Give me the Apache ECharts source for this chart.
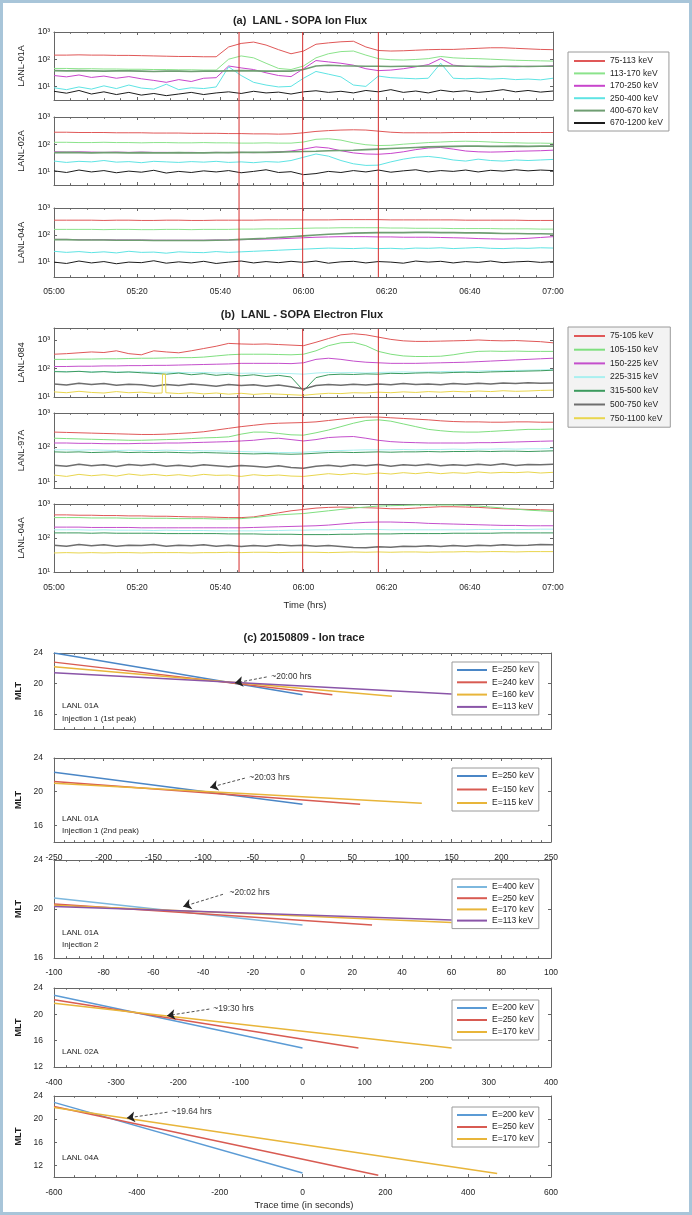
<!DOCTYPE html>
<html><head><meta charset="utf-8">
<script src="https://cdn.jsdelivr.net/npm/echarts@6/dist/echarts.min.js"></script>
<style>html,body{margin:0;padding:0;background:#fff}#c{width:692px;height:1215px}</style>
</head><body><div id="c"></div>
<script>
// ---------------- DATA ----------------
// time axis: minutes after 05:00 UT
const minutes = [0,3,6,9,12,15,18,21,24,27,30,33,36,39,42,45,48,51,54,57,60,63,66,69,72,75,78,81,84,87,90,93,96,99,102,105,108,111,114,117,120];
const eventMinutes = [44.5, 59.8, 78];

// (a) ion channels, values are log10(flux)
const ionChannels = ['75-113 keV','113-170 keV','170-250 keV','250-400 keV','400-670 keV','670-1200 keV'];
const ion01A_75_113 = [2.15,2.15,2.16,2.15,2.15,2.14,2.14,2.13,2.12,2.11, 2.10,2.10,2.09,2.09,2.45,2.58,2.63,2.52,2.35,2.20, 2.30,2.55,2.60,2.64,2.66,2.45,2.32,2.30,2.31,2.33, 2.35,2.36,2.36,2.38,2.40,2.42,2.42,2.40,2.38,2.36, 2.35];
const ion01A_113_170 = [1.66,1.66,1.65,1.65,1.64,1.64,1.63,1.63,1.62,1.62, 1.61,1.61,1.60,1.60,2.00,2.12,2.05,1.85,1.66,1.62, 1.75,2.05,2.20,2.28,2.30,2.15,2.02,1.98,1.97,1.99, 2.02,2.10,2.05,2.03,2.02,2.00,1.98,1.96,1.95,1.94, 1.93];
const ion01A_170_250 = [1.40,1.35,1.42,1.33,1.38,1.30,1.36,1.28,1.22,1.15, 1.25,1.18,1.30,1.32,1.75,1.68,1.62,1.50,1.40,1.36, 1.65,1.95,1.90,1.85,1.78,1.65,1.58,1.60,1.65,1.72, 1.80,2.02,1.78,1.74,1.72,1.72,1.73,1.72,1.74,1.73, 1.76];
const ion01A_250_400 = [0.95,0.88,0.98,0.90,1.02,0.92,1.05,0.94,0.90,1.08, 0.88,0.95,0.92,0.98,1.72,1.40,1.15,1.05,0.98,1.00, 1.30,1.55,1.45,1.35,1.05,1.00,1.38,1.32,1.30,1.28, 1.30,1.85,1.30,1.28,1.30,1.27,1.29,1.25,1.27,1.24, 1.30];
const ion01A_400_670 = [1.58,1.57,1.58,1.57,1.56,1.57,1.57,1.56,1.55,1.56, 1.56,1.55,1.56,1.56,1.57,1.58,1.57,1.56,1.56,1.56, 1.62,1.75,1.78,1.76,1.75,1.74,1.74,1.73,1.74,1.74, 1.75,1.76,1.75,1.74,1.74,1.73,1.74,1.74,1.73,1.74, 1.74];
const ion01A_670_1200 = [0.82,0.75,0.85,0.72,0.80,0.70,0.78,0.68,0.74,0.66, 0.72,0.78,0.70,0.76,0.80,0.74,0.82,0.76,0.79,0.72, 0.80,0.84,0.78,0.82,0.76,0.85,0.80,0.88,0.78,0.83, 0.76,0.86,0.80,0.84,0.78,0.82,0.88,0.80,0.85,0.79, 0.83];

const ion02A_75_113 = [2.44,2.44,2.43,2.43,2.43,2.42,2.42,2.42,2.41,2.41, 2.41,2.40,2.40,2.40,2.39,2.39,2.38,2.38,2.37,2.38, 2.42,2.47,2.50,2.52,2.53,2.52,2.48,2.44,2.42,2.42, 2.42,2.42,2.43,2.43,2.43,2.43,2.43,2.43,2.43,2.43, 2.43];
const ion02A_113_170 = [2.07,2.07,2.06,2.06,2.07,2.06,2.06,2.05,2.06,2.06, 2.05,2.05,2.06,2.05,2.05,2.04,2.04,2.05,2.04,2.04, 2.08,2.18,2.20,2.15,2.05,1.98,1.95,1.96,2.00,2.03, 2.06,2.08,2.10,2.11,2.10,2.08,2.06,2.05,2.04,2.04, 2.03];
const ion02A_170_250 = [1.72,1.71,1.72,1.71,1.70,1.71,1.70,1.71,1.70,1.70, 1.69,1.70,1.69,1.70,1.69,1.70,1.69,1.70,1.72,1.75, 1.82,1.90,1.86,1.76,1.68,1.64,1.63,1.66,1.72,1.80, 1.86,1.88,1.82,1.75,1.72,1.71,1.72,1.74,1.75,1.76, 1.78];
const ion02A_250_400 = [1.38,1.33,1.37,1.35,1.40,1.34,1.36,1.32,1.37,1.35, 1.33,1.36,1.34,1.37,1.33,1.35,1.32,1.36,1.34,1.40, 1.52,1.64,1.56,1.40,1.28,1.22,1.23,1.35,1.45,1.52, 1.55,1.50,1.42,1.38,1.45,1.40,1.38,1.42,1.40,1.42, 1.44];
const ion02A_400_670 = [1.69,1.70,1.69,1.68,1.69,1.69,1.68,1.69,1.68,1.68, 1.69,1.68,1.68,1.69,1.69,1.70,1.70,1.70,1.71,1.72, 1.73,1.74,1.76,1.77,1.78,1.80,1.82,1.84,1.86,1.88, 1.90,1.91,1.92,1.93,1.93,1.92,1.92,1.93,1.92,1.93, 1.93];
const ion02A_670_1200 = [1.02,0.96,1.05,0.98,1.03,0.95,1.01,0.97,1.04,0.94, 1.00,0.96,1.02,0.98,1.03,0.95,1.00,1.06,0.96,0.99, 0.88,0.92,1.00,0.96,1.03,0.98,1.05,0.97,1.02,1.06, 0.98,1.03,1.00,1.05,0.98,1.04,1.01,1.06,1.02,1.05, 1.03];

const ion04A_75_113 = [2.55,2.55,2.55,2.55,2.54,2.55,2.55,2.54,2.54,2.55, 2.55,2.54,2.54,2.55,2.55,2.55,2.55,2.56,2.56,2.56, 2.56,2.56,2.56,2.57,2.57,2.57,2.57,2.56,2.56,2.56, 2.56,2.56,2.56,2.55,2.55,2.55,2.55,2.55,2.54,2.54, 2.54];
const ion04A_113_170 = [2.21,2.21,2.21,2.21,2.20,2.21,2.21,2.20,2.20,2.21, 2.21,2.20,2.21,2.21,2.21,2.22,2.22,2.23,2.23,2.24, 2.25,2.26,2.26,2.27,2.27,2.27,2.27,2.26,2.26,2.25, 2.25,2.25,2.24,2.24,2.24,2.24,2.23,2.23,2.23,2.22, 2.22];
const ion04A_170_250 = [1.84,1.84,1.83,1.83,1.83,1.82,1.82,1.82,1.81,1.81, 1.81,1.81,1.81,1.82,1.82,1.83,1.84,1.85,1.86,1.88, 1.90,1.92,1.93,1.94,1.94,1.94,1.93,1.93,1.92,1.92, 1.92,1.91,1.90,1.89,1.87,1.86,1.85,1.86,1.88,1.91, 1.94];
const ion04A_250_400 = [1.40,1.36,1.39,1.35,1.38,1.34,1.40,1.36,1.37,1.33, 1.38,1.36,1.35,1.39,1.36,1.38,1.40,1.42,1.44,1.46, 1.48,1.50,1.52,1.51,1.50,1.52,1.50,1.51,1.49,1.52, 1.51,1.53,1.50,1.52,1.54,1.51,1.50,1.52,1.51,1.53, 1.52];
const ion04A_400_670 = [1.83,1.83,1.82,1.82,1.82,1.81,1.81,1.81,1.80,1.80, 1.80,1.80,1.80,1.81,1.82,1.84,1.86,1.88,1.91,1.94, 1.97,2.00,2.03,2.05,2.07,2.08,2.09,2.09,2.09,2.10, 2.10,2.09,2.09,2.08,2.08,2.07,2.06,2.06,2.05,2.05, 2.04];
const ion04A_670_1200 = [1.00,0.95,1.04,0.97,1.02,0.94,1.00,0.98,1.05,0.96, 1.01,0.97,1.03,0.95,1.00,1.04,0.97,1.02,0.98,1.03, 0.99,1.04,0.96,1.01,1.03,0.97,1.02,1.00,0.96,1.04, 1.00,1.03,0.97,1.02,0.99,1.04,0.98,1.01,1.03,0.99, 1.02];

// (b) electron channels, values are log10(flux)
const eleChannels = ['75-105 keV','105-150 keV','150-225 keV','225-315 keV','315-500 keV','500-750 keV','750-1100 keV'];
const e084_75_105 = [2.50,2.52,2.55,2.58,2.56,2.62,2.52,2.48,2.62,2.58, 2.55,2.62,2.70,2.78,2.88,2.86,2.85,2.86,2.84,2.82, 2.80,2.92,3.05,3.18,3.22,3.18,3.10,3.02,2.97,2.95, 2.95,2.96,2.97,2.98,3.00,2.98,2.97,2.98,2.96,2.94, 2.90];
const e084_105_150 = [2.32,2.32,2.33,2.33,2.34,2.34,2.35,2.36,2.36,2.37, 2.38,2.38,2.40,2.44,2.48,2.50,2.50,2.50,2.49,2.48, 2.50,2.62,2.80,2.90,2.92,2.80,2.60,2.50,2.44,2.42, 2.42,2.43,2.48,2.55,2.60,2.61,2.60,2.61,2.60,2.60, 2.60];
const e084_150_225 = [2.07,2.07,2.08,2.08,2.09,2.09,2.10,2.10,2.11,2.11, 2.12,2.13,2.14,2.15,2.16,2.18,2.18,2.18,2.18,2.17, 2.20,2.32,2.36,2.32,2.26,2.22,2.20,2.18,2.18,2.18, 2.19,2.20,2.21,2.22,2.24,2.26,2.28,2.30,2.32,2.34, 2.36];
const e084_225_315 = [1.90,1.89,1.90,1.88,1.89,1.88,1.87,1.88,1.86,1.87, 1.86,1.85,1.86,1.84,1.85,1.83,1.84,1.82,1.83,1.82, 1.80,1.84,1.86,1.85,1.86,1.84,1.86,1.87,1.88,1.87, 1.88,1.89,1.90,1.89,1.91,1.92,1.92,1.93,1.94,1.95, 1.96];
const e084_315_500 = [1.89,1.88,1.90,1.87,1.89,1.86,1.88,1.85,1.83,1.80, 1.84,1.78,1.82,1.76,1.80,1.74,1.78,1.72,1.76,1.70, 1.22,1.68,1.78,1.80,1.79,1.81,1.80,1.83,1.82,1.84, 1.85,1.84,1.86,1.87,1.86,1.88,1.89,1.90,1.91,1.92, 1.94];
const e084_500_750 = [1.46,1.42,1.48,1.44,1.47,1.41,1.45,1.43,1.38,1.44, 1.40,1.46,1.42,1.38,1.44,1.40,1.43,1.38,1.42,1.36, 1.28,1.40,1.44,1.41,1.45,1.42,1.46,1.43,1.47,1.44, 1.46,1.43,1.47,1.45,1.48,1.46,1.49,1.47,1.50,1.48, 1.49];
const e084_750_1100 = [1.18,1.15,1.20,1.16,1.14,1.19,1.15,1.17,1.13,1.16, 1.12,1.15,1.11,1.14,1.10,1.13,1.09,1.12,1.10,1.08, 1.06,1.10,1.13,1.12,1.15,1.14,1.17,1.15,1.18,1.16, 1.19,1.17,1.20,1.18,1.21,1.19,1.22,1.20,1.21,1.23, 1.24];
// short burst seen in the 750-1100 keV channel of LANL-084
const spike084Minutes = [26.0, 26.1, 26.8, 26.9];
const spike084Flux = [1.14, 1.80, 1.80, 1.15];

const e97A_75_105 = [2.44,2.43,2.42,2.41,2.40,2.39,2.38,2.37,2.37,2.38, 2.40,2.42,2.45,2.50,2.55,2.60,2.64,2.68,2.70,2.71, 2.72,2.74,2.78,2.82,2.86,2.88,2.88,2.86,2.84,2.82, 2.80,2.77,2.75,2.74,2.74,2.73,2.73,2.74,2.74,2.73, 2.73];
const e97A_105_150 = [2.26,2.25,2.24,2.23,2.22,2.21,2.20,2.20,2.21,2.22, 2.23,2.25,2.27,2.28,2.30,2.38,2.44,2.44,2.40,2.36, 2.35,2.42,2.50,2.60,2.70,2.78,2.80,2.76,2.68,2.60, 2.52,2.48,2.45,2.44,2.44,2.46,2.48,2.50,2.52,2.52, 2.53];
const e97A_150_225 = [2.12,2.12,2.11,2.11,2.10,2.10,2.10,2.11,2.11,2.12, 2.12,2.13,2.14,2.15,2.16,2.18,2.20,2.24,2.26,2.22, 2.18,2.22,2.28,2.30,2.31,2.26,2.20,2.16,2.14,2.13, 2.12,2.12,2.12,2.12,2.13,2.13,2.14,2.15,2.16,2.17, 2.18];
const e97A_225_315 = [1.92,1.92,1.91,1.92,1.91,1.90,1.91,1.90,1.90,1.91, 1.90,1.90,1.89,1.89,1.88,1.87,1.86,1.85,1.84,1.84, 1.85,1.87,1.89,1.90,1.91,1.92,1.92,1.92,1.93,1.92, 1.93,1.93,1.94,1.93,1.94,1.94,1.95,1.94,1.95,1.95, 1.96];
const e97A_315_500 = [1.86,1.85,1.86,1.84,1.85,1.86,1.84,1.85,1.84,1.85, 1.84,1.83,1.84,1.83,1.82,1.81,1.80,1.81,1.80,1.79, 1.80,1.82,1.84,1.85,1.84,1.85,1.86,1.85,1.86,1.86, 1.87,1.86,1.87,1.87,1.88,1.87,1.88,1.88,1.87,1.88, 1.89];
const e97A_500_750 = [1.47,1.44,1.50,1.45,1.48,1.43,1.49,1.46,1.50,1.44, 1.47,1.43,1.48,1.45,1.42,1.46,1.44,1.41,1.45,1.40, 1.38,1.44,1.47,1.43,1.48,1.45,1.49,1.44,1.48,1.46, 1.50,1.45,1.48,1.46,1.50,1.47,1.51,1.46,1.49,1.48, 1.50];
const e97A_750_1100 = [1.18,1.14,1.20,1.16,1.19,1.15,1.21,1.17,1.20,1.16, 1.19,1.15,1.20,1.17,1.18,1.14,1.19,1.16,1.18,1.15, 1.14,1.18,1.22,1.19,1.23,1.20,1.24,1.21,1.25,1.22, 1.26,1.22,1.25,1.23,1.27,1.24,1.26,1.25,1.27,1.24, 1.26];

const e04A_75_105 = [2.68,2.68,2.67,2.67,2.66,2.66,2.65,2.65,2.64,2.64, 2.63,2.62,2.62,2.61,2.60,2.60,2.62,2.68,2.74,2.80, 2.84,2.88,2.90,2.91,2.90,2.89,2.88,2.86,2.86,2.88, 2.90,2.92,2.92,2.91,2.90,2.88,2.86,2.85,2.84,2.83, 2.82];
const e04A_105_150 = [2.60,2.60,2.60,2.59,2.59,2.59,2.58,2.58,2.58,2.58, 2.57,2.57,2.57,2.56,2.56,2.57,2.60,2.64,2.68,2.70, 2.72,2.76,2.80,2.84,2.88,2.91,2.94,2.95,2.96,2.97, 2.97,2.97,2.97,2.96,2.94,2.91,2.88,2.85,2.82,2.80, 2.78];
const e04A_150_225 = [2.32,2.32,2.32,2.31,2.31,2.31,2.31,2.30,2.30,2.30, 2.30,2.30,2.30,2.30,2.30,2.30,2.31,2.32,2.33,2.34, 2.35,2.36,2.38,2.41,2.44,2.46,2.47,2.47,2.46,2.45, 2.43,2.42,2.41,2.40,2.39,2.38,2.37,2.37,2.36,2.36, 2.36];
const e04A_225_315 = [2.24,2.24,2.24,2.23,2.24,2.23,2.23,2.23,2.22,2.23, 2.22,2.22,2.22,2.21,2.21,2.21,2.21,2.22,2.22,2.23, 2.23,2.24,2.24,2.25,2.25,2.25,2.25,2.24,2.24,2.24, 2.24,2.24,2.24,2.24,2.25,2.25,2.25,2.25,2.25,2.26, 2.26];
const e04A_315_500 = [2.15,2.15,2.15,2.14,2.15,2.14,2.14,2.14,2.14,2.13, 2.13,2.13,2.13,2.13,2.12,2.12,2.12,2.11,2.11,2.11, 2.10,2.10,2.10,2.11,2.11,2.12,2.12,2.12,2.13,2.13, 2.13,2.13,2.14,2.14,2.14,2.14,2.15,2.15,2.15,2.15, 2.15];
const e04A_500_750 = [1.79,1.76,1.81,1.77,1.80,1.76,1.79,1.78,1.81,1.76, 1.79,1.77,1.80,1.76,1.79,1.75,1.78,1.76,1.80,1.77, 1.79,1.76,1.78,1.75,1.72,1.71,1.74,1.73,1.76,1.75, 1.77,1.75,1.78,1.76,1.79,1.77,1.80,1.78,1.79,1.81, 1.80];
const e04A_750_1100 = [1.56,1.57,1.56,1.57,1.56,1.57,1.57,1.56,1.57,1.57, 1.57,1.56,1.57,1.57,1.58,1.57,1.58,1.58,1.57,1.58, 1.58,1.58,1.57,1.58,1.59,1.58,1.59,1.58,1.59,1.59, 1.58,1.59,1.59,1.60,1.59,1.60,1.60,1.59,1.60,1.60, 1.60];

// (c) ion traces: straight traces, start/end trace time (s) and MLT (h)
const c1Labels = ['E=250 keV','E=240 keV','E=160 keV','E=113 keV'];
const c1TimeStart = [-250,-250,-250,-250];
const c1TimeEnd   = [0, 30, 90, 150];
const c1MltStart  = [24.0, 22.8, 22.2, 21.4];
const c1MltEnd    = [18.5, 18.5, 18.3, 18.6];

const c2Labels = ['E=250 keV','E=150 keV','E=115 keV'];
const c2TimeStart = [-250,-250,-250];
const c2TimeEnd   = [0, 58, 120];
const c2MltStart  = [22.3, 21.2, 21.0];
const c2MltEnd    = [18.5, 18.5, 18.6];

const c3Labels = ['E=400 keV','E=250 keV','E=170 keV','E=113 keV'];
const c3TimeStart = [-100,-100,-100,-100];
const c3TimeEnd   = [0, 28, 60, 60];
const c3MltStart  = [20.9, 20.4, 20.3, 20.2];
const c3MltEnd    = [18.7, 18.7, 18.9, 19.1];

const c4Labels = ['E=200 keV','E=250 keV','E=170 keV'];
const c4TimeStart = [-400,-400,-400];
const c4TimeEnd   = [0, 90, 240];
const c4MltStart  = [22.9, 22.2, 21.7];
const c4MltEnd    = [14.9, 14.9, 14.9];

const c5Labels = ['E=200 keV','E=250 keV','E=170 keV'];
const c5TimeStart = [-600,-600,-600];
const c5TimeEnd   = [0, 183, 470];
const c5MltStart  = [22.9, 22.2, 22.0];
const c5MltEnd    = [10.7, 10.3, 10.6];

// annotations (trace time s, MLT h)
const noteTexts = ['~20:00 hrs','~20:03 hrs','~20:02 hrs','~19:30 hrs','~19.64 hrs'];
const noteTextAt = [[-33, 20.85],[-55, 21.7],[-30, 21.3],[-146, 20.9],[-320, 21.3]];
const noteTail  = [[-36, 20.85],[-58, 21.6],[-32, 21.2],[-150, 20.8],[-326, 21.2]];
const noteHead  = [[-68, 20.05],[-93, 20.5],[-48, 20.2],[-218, 19.8],[-424, 20.2]];

// ---------------- CHART ----------------
const FONT = '"Liberation Sans", Arial, sans-serif';
const AX = '#666';
const TXT = '#1f1f1f';
const RED = '#d42c2c';
const grid = [], xAxis = [], yAxis = [], series = [], legend = [], graphic = [];
const SUP = {1:'\u00b9',2:'\u00b2',3:'\u00b3',4:'\u2074'};
const pow10 = v => '10' + (SUP[v] || v);
const hhmm = v => { const h = 5 + Math.floor(v/60), m = v % 60; return String(h).padStart(2,'0') + ':' + String(m).padStart(2,'0'); };

function panel(o){
  const gi = grid.length;
  grid.push({left:o.left, top:o.top, width:o.width, height:o.height});
  const xi = xAxis.length;
  const xBase = {gridIndex:gi, type:'value', min:o.xMin, max:o.xMax, interval:o.xInt, splitLine:{show:false},
    axisLine:{show:true, onZero:false, lineStyle:{color:AX, width:1}},
    axisTick:{show:true, inside:true, length:3, lineStyle:{color:AX}},
    minorTick:{show:true, splitNumber:o.xMinor, length:1.8, lineStyle:{color:AX}}};
  xAxis.push(Object.assign({}, xBase, {position:'bottom',
    axisLabel:{show:!!o.xLabels, formatter:o.xFmt, fontSize:8.5, color:TXT, fontFamily:FONT, margin:o.xMargin}}));
  xAxis.push(Object.assign({}, xBase, {position:'top', axisLabel:{show:false}}));
  const yi = yAxis.length;
  const yBase = {gridIndex:gi, type:'value', min:o.yMin, max:o.yMax, splitLine:{show:false},
    axisLine:{show:true, onZero:false, lineStyle:{color:AX, width:1}},
    axisTick:{show:true, inside:true, length:3, customValues:o.yTicks, lineStyle:{color:AX}}};
  yAxis.push(Object.assign({}, yBase, {position:'left', name:o.yName, nameLocation:'middle', nameGap:o.nameGap,
    nameTextStyle:{fontSize:9, color:TXT, fontFamily:FONT, fontWeight:o.nameBold ? 'bold' : 'normal'},
    axisLabel:{customValues:o.yTicks, formatter:o.yFmt, fontSize:8.5, color:TXT, fontFamily:FONT, margin:o.yMargin}}));
  yAxis.push(Object.assign({}, yBase, {position:'right', axisLabel:{show:false}}));
  return {xi, yi};
}
function addLine(name, ax, pairs, color, width){
  series.push({type:'line', name, xAxisIndex:ax.xi, yAxisIndex:ax.yi, data:pairs, showSymbol:false, symbol:'none',
    lineStyle:{color, width}, itemStyle:{color}, silent:true, animation:false});
  return series[series.length-1];
}
const zip = (xs, ys) => xs.map((x,i) => [x, ys[i]]);

// (a) ion flux panels
const ionColors = ['#e05858','#8be38b','#c845cc','#5fe4e4','#6f9e72','#1c1c1c'];
const ionWidths = [1,1,1,1,1.6,1];
const ionPanels = [
  {name:'LANL-01A', top:32, height:68, yMin:0.5, yMax:3, data:[ion01A_75_113,ion01A_113_170,ion01A_170_250,ion01A_250_400,ion01A_400_670,ion01A_670_1200]},
  {name:'LANL-02A', top:117, height:68, yMin:0.5, yMax:3, data:[ion02A_75_113,ion02A_113_170,ion02A_170_250,ion02A_250_400,ion02A_400_670,ion02A_670_1200]},
  {name:'LANL-04A', top:208, height:69, yMin:0.45, yMax:3, data:[ion04A_75_113,ion04A_113_170,ion04A_170_250,ion04A_250_400,ion04A_400_670,ion04A_670_1200]}
];
ionPanels.forEach((p,k) => {
  const ax = panel({left:54, width:499, top:p.top, height:p.height, xMin:0, xMax:120, xInt:20, xMinor:5,
    xLabels:k===2, xFmt:hhmm, xMargin:10, yMin:p.yMin, yMax:p.yMax, yTicks:[1,2,3], yFmt:pow10,
    yName:p.name, nameGap:28, yMargin:4});
  p.data.forEach((arr,i) => addLine('a|'+ionChannels[i], ax, zip(minutes, arr), ionColors[i], ionWidths[i]));
});

// (b) electron flux panels
const eleColors = ['#e05858','#7fdf7f','#c44fcc','#a9f0f0','#3c9a5e','#6e6e6e','#e9d64e'];
const eleWidths = [1,1,1,1,1,1.5,1];
const e084Yellow = zip(minutes, e084_750_1100).concat(zip(spike084Minutes, spike084Flux)).sort((a,b)=>a[0]-b[0]);
const elePanels = [
  {name:'LANL-084', top:328, height:69, yMin:1, yMax:3.42, data:[zip(minutes,e084_75_105),zip(minutes,e084_105_150),zip(minutes,e084_150_225),zip(minutes,e084_225_315),zip(minutes,e084_315_500),zip(minutes,e084_500_750),e084Yellow]},
  {name:'LANL-97A', top:413, height:75, yMin:0.8, yMax:3, data:[zip(minutes,e97A_75_105),zip(minutes,e97A_105_150),zip(minutes,e97A_150_225),zip(minutes,e97A_225_315),zip(minutes,e97A_315_500),zip(minutes,e97A_500_750),zip(minutes,e97A_750_1100)]},
  {name:'LANL-04A', top:504, height:68, yMin:1, yMax:3, data:[zip(minutes,e04A_75_105),zip(minutes,e04A_105_150),zip(minutes,e04A_150_225),zip(minutes,e04A_225_315),zip(minutes,e04A_315_500),zip(minutes,e04A_500_750),zip(minutes,e04A_750_1100)]}
];
elePanels.forEach((p,k) => {
  const ax = panel({left:54, width:499, top:p.top, height:p.height, xMin:0, xMax:120, xInt:20, xMinor:5,
    xLabels:k===2, xFmt:hhmm, xMargin:11, yMin:p.yMin, yMax:p.yMax, yTicks:[1,2,3], yFmt:pow10,
    yName:p.name, nameGap:28, yMargin:4});
  p.data.forEach((pairs,i) => addLine('b|'+eleChannels[i], ax, pairs, eleColors[i], eleWidths[i]));
});

// red event lines spanning each stacked panel group (drawn as vertical line series)
function eventLines(top, height){
  const gi = grid.length;
  grid.push({left:54, width:499, top, height});
  const xi = xAxis.length, yi = yAxis.length;
  xAxis.push({gridIndex:gi, type:'value', min:0, max:120, show:false});
  yAxis.push({gridIndex:gi, type:'value', min:0, max:1, show:false});
  eventMinutes.forEach(t => {
    series.push({type:'line', xAxisIndex:xi, yAxisIndex:yi, data:[[t,0],[t,1]], showSymbol:false, symbol:'none',
      silent:true, animation:false, z:5, lineStyle:{color:RED, width:1}, itemStyle:{color:RED}});
  });
}
eventLines(32, 245);
eventLines(329, 243);

// (c) ion trace panels
const cPanels = [
  {top:653, height:76, yMin:14, yMax:24, xMin:-250, xMax:250, xInt:50, xMinor:5, xLabels:false, yTicks:[16,20,24],
   labels:c1Labels, ts:c1TimeStart, te:c1TimeEnd, ms:c1MltStart, me:c1MltEnd, colors:['#4a86c6','#d85b52','#e8b53a','#8a55a8'],
   legendTop:662, legendGap:2.3},
  {top:758, height:84, yMin:14, yMax:24, xMin:-250, xMax:250, xInt:50, xMinor:5, xLabels:true, xMargin:11, yTicks:[16,20,24],
   labels:c2Labels, ts:c2TimeStart, te:c2TimeEnd, ms:c2MltStart, me:c2MltEnd, colors:['#4a86c6','#d85b52','#e8b53a'],
   legendTop:768, legendGap:3.5},
  {top:860, height:98, yMin:16, yMax:24, xMin:-100, xMax:100, xInt:20, xMinor:4, xLabels:true, xMargin:10, yTicks:[16,20,24],
   labels:c3Labels, ts:c3TimeStart, te:c3TimeEnd, ms:c3MltStart, me:c3MltEnd, colors:['#7db8de','#d85b52','#e8b53a','#8a55a8'],
   legendTop:879, legendGap:1.2},
  {top:988, height:79, yMin:12, yMax:24, xMin:-400, xMax:400, xInt:100, xMinor:5, xLabels:true, xMargin:11, yTicks:[12,16,20,24],
   labels:c4Labels, ts:c4TimeStart, te:c4TimeEnd, ms:c4MltStart, me:c4MltEnd, colors:['#5b9bd5','#d85b52','#e8b53a'],
   legendTop:1000, legendGap:2},
  {top:1096, height:81, yMin:10, yMax:24, xMin:-600, xMax:600, xInt:200, xMinor:4, xLabels:true, xMargin:11, yTicks:[12,16,20,24],
   labels:c5Labels, ts:c5TimeStart, te:c5TimeEnd, ms:c5MltStart, me:c5MltEnd, colors:['#5b9bd5','#d85b52','#e8b53a'],
   legendTop:1107, legendGap:2}
];
cPanels.forEach((p,k) => {
  const ax = panel({left:54, width:497, top:p.top, height:p.height, xMin:p.xMin, xMax:p.xMax, xInt:p.xInt, xMinor:p.xMinor,
    xLabels:p.xLabels, xFmt:v => String(v), xMargin:p.xMargin, yMin:p.yMin, yMax:p.yMax, yTicks:p.yTicks, yFmt:v => String(v),
    yName:'MLT', nameBold:true, nameGap:21, yMargin:11});
  const names = [];
  p.labels.forEach((lab,i) => {
    const nm = 'c' + (k+1) + '|' + lab;
    names.push(nm);
    const s = addLine(nm, ax, [[p.ts[i], p.ms[i]], [p.te[i], p.me[i]]], p.colors[i], 1.5);
    if (i === 0) {
      s.markLine = {silent:true, animation:false, symbol:['none','triangle'], symbolSize:7,
        label:{show:false}, lineStyle:{color:'#222', width:0.8, type:[3,2]}, itemStyle:{color:'#111'},
        data:[[{coord:noteTail[k]}, {coord:noteHead[k], symbol:'arrow', symbolSize:8}]]};
      s.markPoint = {silent:true, animation:false, symbol:'circle', symbolSize:1, itemStyle:{color:'rgba(0,0,0,0)'},
        label:{show:true, position:'right', distance:1, formatter:noteTexts[k], fontSize:8.5, color:'#333', fontFamily:FONT},
        data:[{coord:noteTextAt[k]}]};
    }
  });
  legend.push({data:names, orient:'vertical', left:452, top:p.legendTop, itemWidth:30, itemHeight:2, icon:'rect',
    itemGap:p.legendGap, padding:[3,5,3,5], backgroundColor:'#fff', borderColor:'#9a9a9a', borderWidth:1,
    selectedMode:false, formatter:n => n.split('|')[1],
    textStyle:{fontSize:8.5, lineHeight:10, color:TXT, fontFamily:FONT}});
});

legend.push({data:ionChannels.map(c => 'a|'+c), orient:'vertical', left:568, top:52, itemWidth:31, itemHeight:2, icon:'rect',
  itemGap:2.4, padding:[4,6,3,6], backgroundColor:'#fff', borderColor:'#9a9a9a', borderWidth:1, selectedMode:false,
  formatter:n => n.split('|')[1], textStyle:{fontSize:8.5, lineHeight:10, color:TXT, fontFamily:FONT}});
legend.push({data:eleChannels.map(c => 'b|'+c), orient:'vertical', left:568, top:327, itemWidth:31, itemHeight:2, icon:'rect',
  itemGap:3.7, padding:[4,8,4,6], backgroundColor:'#f3f3f3', borderColor:'#9a9a9a', borderWidth:1, selectedMode:false,
  formatter:n => n.split('|')[1], textStyle:{fontSize:8.5, lineHeight:10, color:TXT, fontFamily:FONT}});

// titles and text labels
function txt(x, y, text, font, align){
  graphic.push({type:'text', x, y, silent:true, style:{text, font, fill:TXT, align:align||'center', verticalAlign:'middle',
    textAlign:align||'center', textVerticalAlign:'middle'}});
}
txt(300, 21, '(a)  LANL - SOPA Ion Flux', 'bold 11px ' + FONT);
txt(302, 315, '(b)  LANL - SOPA Electron Flux', 'bold 11px ' + FONT);
txt(305, 605, 'Time (hrs)', '9.5px ' + FONT);
txt(304, 638, '(c) 20150809 - Ion trace', 'bold 11px ' + FONT);
txt(304, 1205, 'Trace time (in seconds)', '9.5px ' + FONT);
const L = '8px ' + FONT;
txt(62, 706, 'LANL 01A', L, 'left');
txt(62, 719, 'Injection 1 (1st peak)', L, 'left');
txt(62, 819, 'LANL 01A', L, 'left');
txt(62, 831, 'Injection 1 (2nd peak)', L, 'left');
txt(62, 933, 'LANL 01A', L, 'left');
txt(62, 945, 'Injection 2', L, 'left');
txt(62, 1052, 'LANL 02A', L, 'left');
txt(62, 1158, 'LANL 04A', L, 'left');
graphic.push({type:'rect', silent:true, z:100, shape:{x:1.5, y:1.5, width:689, height:1212},
  style:{fill:'none', stroke:'#a8c5d9', lineWidth:3}});

const chart = echarts.init(document.getElementById('c'), null, {renderer:'canvas'});
chart.setOption({backgroundColor:'#fff', animation:false, textStyle:{fontFamily:FONT},
  grid, xAxis, yAxis, series, legend, graphic});
</script>
</body></html>
